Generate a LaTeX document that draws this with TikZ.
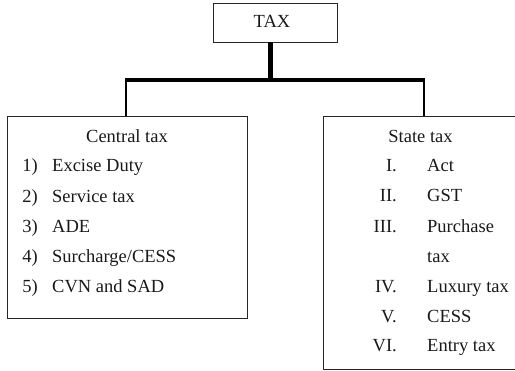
\documentclass[tikz,border=0pt]{standalone}
\usepackage{fontspec}
\setmainfont{Liberation Serif}
\begin{document}
\begin{tikzpicture}[x=1pt,y=-1pt,
  boxst/.style={draw=black!85, line width=0.9pt, rectangle, inner sep=0pt},
  txt/.style={inner sep=0pt, font=\fontsize{18.5}{20}\selectfont, text=black!90},
  stemline/.style={line width=5pt, black},
  barline/.style={line width=4.5pt, black},
  dropline/.style={line width=2.3pt, black}]
\clip (0,0) rectangle (515,371);
% boxes
\node[boxst, minimum width=124pt, minimum height=39pt] (tax) at (275,22.5) {};
\node[txt, anchor=base] (taxt) at (272,27.5) {TAX};
\node[boxst, minimum width=240pt, minimum height=202pt] (central) at (127,217) {};
\node[boxst, minimum width=197pt, minimum height=253pt] (state) at (421.5,242.5) {};
% connectors
\coordinate (j) at (270.5,80);
\coordinate (l) at (126,80);
\coordinate (r) at (424,80);
\coordinate (lb) at (125,80);
\coordinate (rb) at (425,80);
\draw[stemline] (tax.south -| j) -- (j);
\draw[barline] (lb) -- (rb);
\draw[dropline] (l) -- (l |- central.north);
\draw[dropline] (r) -- (r |- state.north);
% central tax text
\node[txt, anchor=base] (ch) at (127,143) {Central tax};
\foreach \n/\t/\y [count=\i] in {1)/Excise Duty/172, 2)/Service tax/203, 3)/ADE/233, 4)/Surcharge\slash CESS/263, 5)/CVN and SAD/293}{
  \node[txt, anchor=base east] (cn\i) at (38,\y) {\n};
  \node[txt, anchor=base west] (ct\i) at (52,\y) {\t};
}
% state tax text
\node[txt, anchor=base] (sh) at (420.5,143) {State tax};
\foreach \n/\t/\y [count=\i] in {I./Act/172, II./GST/202, III./Purchase/233, IV./Luxury tax/293, V./CESS/323, VI./Entry tax/352}{
  \node[txt, anchor=base east] (sn\i) at (397,\y) {\n};
  \node[txt, anchor=base west] (st\i) at (427,\y) {\t};
}
\node[txt, anchor=base west] (st3b) at (427,263) {tax};
\end{tikzpicture}
\end{document}
